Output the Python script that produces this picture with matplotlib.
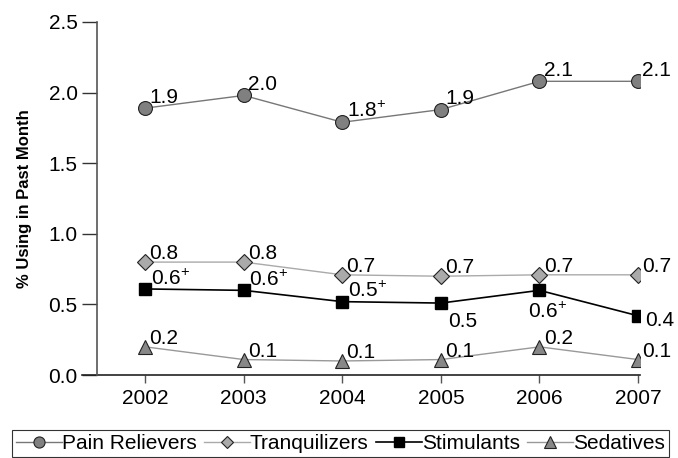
import matplotlib.pyplot as plt

plt.rcParams['font.family'] = ['Liberation Sans', 'DejaVu Sans']
plt.rcParams['mathtext.fontset'] = 'custom'
plt.rcParams['mathtext.rm'] = 'Liberation Sans'

years = [2002, 2003, 2004, 2005, 2006, 2007]
pain = [1.89, 1.98, 1.79, 1.88, 2.08, 2.08]
tranq = [0.80, 0.80, 0.71, 0.70, 0.71, 0.71]
stim = [0.61, 0.60, 0.52, 0.51, 0.60, 0.42]
sed = [0.20, 0.11, 0.10, 0.11, 0.20, 0.11]

pain_lbl = ['1.9', '2.0', '1.8$^{+}$', '1.9', '2.1', '2.1']
tranq_lbl = ['0.8', '0.8', '0.7', '0.7', '0.7', '0.7']
stim_lbl = ['0.6$^{+}$', '0.6$^{+}$', '0.5$^{+}$', '0.5', '0.6$^{+}$', '0.4']
sed_lbl = ['0.2', '0.1', '0.1', '0.1', '0.2', '0.1']

fig = plt.figure(figsize=(6.78, 4.58), dpi=100)
ax = fig.add_axes([0.143, 0.181, 0.801, 0.771])

ax.plot(years, pain, color='#777777', lw=1, marker='o', ms=10,
        mfc='#808080', mec='#222222', mew=0.8, label='Pain Relievers')
ax.plot(years, tranq, color='#aaaaaa', lw=1, marker='D', ms=8,
        mfc='#aaaaaa', mec='#222222', mew=0.8, label='Tranquilizers')
ax.plot(years, stim, color='black', lw=1.2, marker='s', ms=9,
        mfc='black', mec='black', label='Stimulants')
ax.plot(years, sed, color='#999999', lw=1, marker='^', ms=10,
        mfc='#888888', mec='#222222', mew=0.8, label='Sedatives')

fs = 15
for x, y, t in zip(years, pain, pain_lbl):
    ax.annotate(t, (x, y), xytext=(3, 4), textcoords='offset points', fontsize=fs)
for x, y, t in zip(years, tranq, tranq_lbl):
    ax.annotate(t, (x, y), xytext=(3, 2), textcoords='offset points', fontsize=fs)
stim_off = [(4, 3), (4, 3), (4, 3), (5, -17), (-8, -20), (5, -7)]
for (x, y, t), off in zip(zip(years, stim, stim_lbl), stim_off):
    ax.annotate(t, (x, y), xytext=off, textcoords='offset points', fontsize=fs)
for x, y, t in zip(years, sed, sed_lbl):
    ax.annotate(t, (x, y), xytext=(3, 2), textcoords='offset points', fontsize=fs)

ax.set_xlim(2001.51, 2007.02)
ax.set_ylim(0, 2.5)
ax.set_xticks(years)
ax.set_yticks([0, 0.5, 1.0, 1.5, 2.0, 2.5])
ax.set_yticklabels(['0.0', '0.5', '1.0', '1.5', '2.0', '2.5'])
ax.tick_params(axis='y', labelsize=fs, length=11, width=1, color='#333333', pad=3)
ax.tick_params(axis='x', labelsize=fs, length=6, width=1, color='#555555', pad=4)
for s in ['top', 'right', 'bottom']:
    ax.spines[s].set_visible(False)
ax.spines['left'].set_color('#555555')
ax.spines['left'].set_linewidth(1.2)
ax.plot([-0.028, 1.0], [0, 0], transform=ax.transAxes, clip_on=False,
        color='#222222', lw=1.2)
ax.set_ylabel('% Using in Past Month', fontsize=12, fontweight='bold', labelpad=12)

leg = fig.legend(loc='upper left', bbox_to_anchor=(12 / 678, 1 - 430 / 458), ncol=4,
                 fontsize=fs, frameon=True, fancybox=False, edgecolor='black',
                 handlelength=2.2, handletextpad=0.0, columnspacing=0.35,
                 borderpad=0.2, borderaxespad=0.0, markerscale=0.8)
leg.get_frame().set_linewidth(0.8)

fig.savefig('out.png', dpi=100)
